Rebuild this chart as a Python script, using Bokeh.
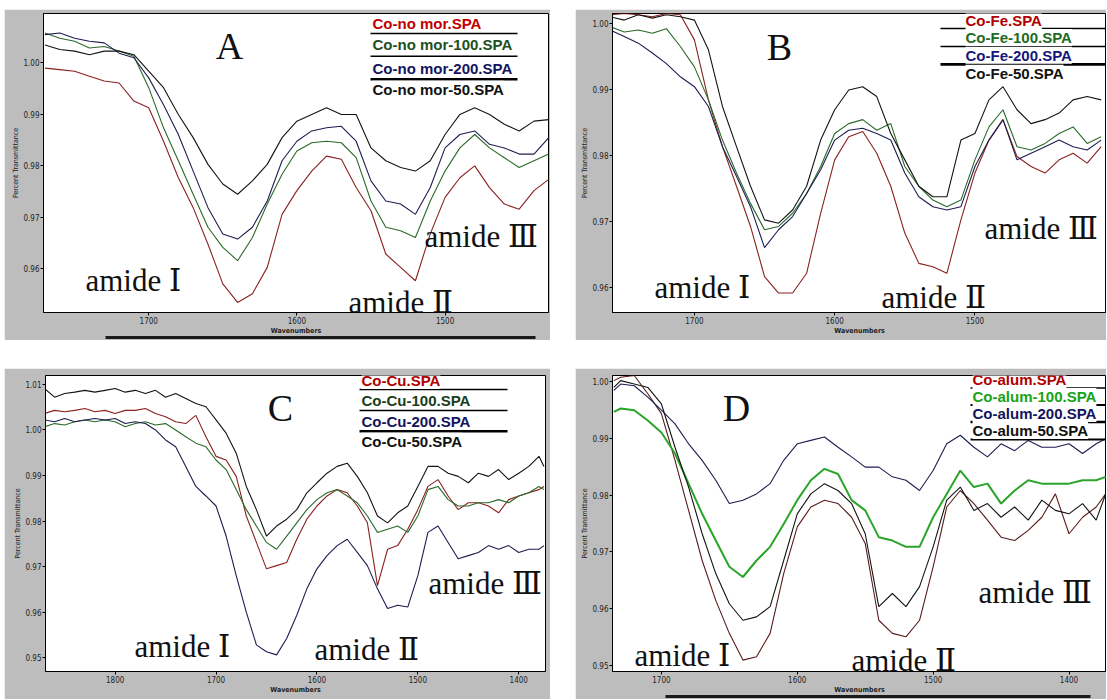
from bokeh.plotting import figure
from bokeh.models import Range1d, FixedTicker, NumeralTickFormatter, Label, BoxAnnotation, LinearAxis, Spacer
from bokeh.layouts import row, column
from bokeh.embed import file_html
from bokeh.resources import INLINE

# ---------------- data ----------------
wn_A = list(range(1770, 1429, -10))
A_red = [0.999, 0.9987, 0.9984, 0.9974, 0.9965, 0.9961, 0.9926, 0.9913, 0.9848, 0.9777, 0.9719, 0.9648,
         0.9571, 0.9535, 0.9552, 0.9603, 0.9706, 0.9752, 0.979, 0.9819, 0.9813, 0.9758, 0.9713, 0.9629,
         0.9603, 0.9577, 0.9668, 0.9739, 0.9777, 0.98, 0.9758, 0.9726, 0.9716, 0.9752, 0.9774]
A_100 = [1.0058, 1.0048, 1.0042, 1.0029, 1.0032, 1.0023, 1.0013, 0.9952, 0.9874, 0.981, 0.9745, 0.9681,
         0.9642, 0.9616, 0.9661, 0.9726, 0.9784, 0.9829, 0.9845, 0.9848, 0.9845, 0.9816, 0.9732, 0.9681,
         0.9674, 0.9661, 0.9732, 0.979, 0.9835, 0.9861, 0.9835, 0.9816, 0.9797, 0.981, 0.9823]
A_200 = [1.0055, 1.0058, 1.0048, 1.0042, 1.0039, 1.0019, 1.001, 0.9971, 0.9919, 0.9861, 0.979, 0.9719,
         0.9668, 0.9658, 0.9681, 0.9732, 0.981, 0.9848, 0.9868, 0.9874, 0.9877, 0.9848, 0.9771, 0.9732,
         0.9726, 0.9706, 0.9758, 0.9835, 0.9861, 0.9868, 0.9842, 0.9835, 0.9823, 0.9823, 0.9855]
A_50 = [1.0035, 1.0026, 1.0023, 1.0016, 1.0023, 1.0023, 1.0016, 0.9984, 0.9952, 0.99, 0.9855, 0.9803,
        0.9765, 0.9745, 0.9771, 0.9803, 0.9855, 0.9887, 0.99, 0.9913, 0.99, 0.99, 0.9835, 0.981,
        0.9797, 0.979, 0.981, 0.9861, 0.99, 0.9913, 0.99, 0.9881, 0.9868, 0.9887, 0.989]

wn_B = list(range(1760, 1400, -10))
B_red = [1.0013, 1.0015, 1.0013, 1.001, 1.0015, 1.0013, 0.9975, 0.9884, 0.9813, 0.9753, 0.9692, 0.9616,
         0.9591, 0.9591, 0.9621, 0.9712, 0.9793, 0.9828, 0.9836, 0.9803, 0.9753, 0.9682, 0.9636, 0.9631,
         0.9621, 0.9702, 0.9773, 0.9823, 0.9854, 0.9798, 0.9783, 0.9773, 0.9793, 0.9803, 0.9788, 0.9813]
B_100 = [0.9995, 0.9987, 0.999, 0.9985, 0.9992, 0.9965, 0.9934, 0.9884, 0.9823, 0.9773, 0.9727, 0.9687,
         0.9692, 0.9712, 0.9742, 0.9783, 0.9833, 0.9848, 0.9854, 0.9838, 0.9848, 0.9783, 0.9753, 0.9732,
         0.9722, 0.9732, 0.9793, 0.9843, 0.9869, 0.9813, 0.9808, 0.9818, 0.9833, 0.9843, 0.9818, 0.9828]
B_200 = [0.999, 0.998, 0.997, 0.9955, 0.9939, 0.9919, 0.9904, 0.9874, 0.9813, 0.9768, 0.9722, 0.966,
         0.9687, 0.9707, 0.9742, 0.9778, 0.9823, 0.9838, 0.9841, 0.9833, 0.9823, 0.9773, 0.9737, 0.9722,
         0.9717, 0.9722, 0.9783, 0.9823, 0.9854, 0.9793, 0.9803, 0.9813, 0.9823, 0.9813, 0.9808, 0.9823]
B_50 = [1.001, 1.0005, 1.0013, 1.0008, 1.0013, 1.001, 1.0005, 0.996, 0.9874, 0.9813, 0.9753, 0.9702,
        0.9697, 0.9717, 0.9753, 0.9823, 0.9869, 0.9899, 0.9904, 0.9889, 0.9833, 0.9793, 0.9753, 0.9737,
        0.9737, 0.9823, 0.9833, 0.9884, 0.9904, 0.9869, 0.9848, 0.9854, 0.9864, 0.9884, 0.9889, 0.9884]

wn_C = list(range(1870, 1370, -10)) + [1375]
C_red = [1.0036, 1.0043, 1.004, 1.0043, 1.0047, 1.004, 1.0043, 1.0036, 1.0043, 1.0043,
         1.0047, 1.0036, 1.0029, 1.0018, 1.0014, 1.0032, 0.9985, 0.9942, 0.9934, 0.9898,
         0.9811, 0.9753, 0.9695, 0.9702, 0.9709, 0.976, 0.9804, 0.9833, 0.9855, 0.9869,
         0.9862, 0.9833, 0.9796, 0.9658, 0.9738, 0.9746, 0.9782, 0.9825, 0.9876, 0.9891,
         0.9855, 0.9825, 0.984, 0.984, 0.9833, 0.9818, 0.9847, 0.9855, 0.9862, 0.9869, 0.9876]
C_100 = [1.0007, 1.0014, 1.0011, 1.0018, 1.0022, 1.0018, 1.0022, 1.0018, 1.0007, 1.0014,
         1.0018, 1.0011, 1.0014, 1.0, 0.9985, 0.9971, 0.9963, 0.9934, 0.9913, 0.9869,
         0.9825, 0.9789, 0.9753, 0.9738, 0.9767, 0.9796, 0.9825, 0.9847, 0.9862, 0.9869,
         0.9855, 0.984, 0.9811, 0.9775, 0.9782, 0.9789, 0.9775, 0.9811, 0.9869, 0.9876,
         0.9847, 0.9833, 0.9833, 0.984, 0.984, 0.9847, 0.984, 0.9855, 0.9862, 0.9876, 0.9869]
C_200 = [1.0022, 1.0018, 1.0025, 1.0018, 1.0022, 1.0025, 1.0022, 1.0025, 1.0014, 1.0018,
         1.0014, 1.0, 0.9978, 0.9963, 0.992, 0.9876, 0.9855, 0.9833, 0.9767, 0.968,
         0.96, 0.9528, 0.9513, 0.9506, 0.9542, 0.9593, 0.9651, 0.9695, 0.9724, 0.9746,
         0.976, 0.9731, 0.9702, 0.9651, 0.9608, 0.9615, 0.9611, 0.968, 0.9775, 0.9789,
         0.9753, 0.9717, 0.9724, 0.9731, 0.9746, 0.9738, 0.9746, 0.9731, 0.9738, 0.9738, 0.9746]
C_50 = [1.0091, 1.0072, 1.008, 1.0083, 1.0087, 1.0083, 1.0087, 1.0091, 1.0083, 1.0087,
        1.008, 1.0087, 1.0072, 1.008, 1.0069, 1.0058, 1.0051, 1.0022, 0.9993, 0.9949,
        0.9876, 0.9825, 0.9767, 0.9789, 0.9804, 0.9825, 0.9862, 0.9884, 0.9905, 0.992,
        0.9927, 0.9898, 0.9862, 0.9811, 0.9796, 0.9818, 0.9833, 0.9876, 0.992, 0.992,
        0.9905, 0.9898, 0.9884, 0.9905, 0.9898, 0.9913, 0.9891, 0.9905, 0.992, 0.9942, 0.992]

wn_D = [1735, 1730] + list(range(1720, 1379, -10)) + [1373]
D_red = [1.0001, 1.0007, 1.001, 0.9978, 0.9943, 0.9861, 0.9773, 0.9685, 0.9615, 0.9557, 0.951, 0.9516,
         0.9557, 0.9662, 0.9744, 0.9779, 0.9791, 0.9785, 0.9761, 0.9715, 0.958, 0.9557, 0.9551, 0.958,
         0.9674, 0.9779, 0.9808, 0.9785, 0.9756, 0.9726, 0.972, 0.9738, 0.9761, 0.9802, 0.9732, 0.9761,
         0.9779, 0.9802]
D_100 = [0.9946, 0.9952, 0.9949, 0.9931, 0.991, 0.9873, 0.982, 0.9767, 0.972, 0.9674, 0.9656, 0.9685,
         0.9709, 0.9749, 0.9791, 0.9826, 0.9846, 0.9837, 0.9791, 0.9773, 0.9726, 0.972, 0.9709, 0.9709,
         0.9761, 0.9802, 0.9843, 0.9814, 0.982, 0.9785, 0.9808, 0.9826, 0.982, 0.982, 0.982, 0.9826,
         0.9826, 0.9832]
D_200 = [0.9984, 0.9995, 0.9992, 0.9972, 0.9949, 0.9925, 0.989, 0.9861, 0.9826, 0.9785, 0.9791, 0.9802,
         0.982, 0.9861, 0.989, 0.9896, 0.9902, 0.9884, 0.9867, 0.9849, 0.9849, 0.9832, 0.9826, 0.9808,
         0.9843, 0.989, 0.9905, 0.9884, 0.9867, 0.989, 0.9878, 0.9896, 0.9884, 0.9884, 0.989, 0.9873,
         0.989, 0.9899]
D_50 = [0.9989, 1.0001, 0.9995, 0.9989, 0.996, 0.9884, 0.9814, 0.9732, 0.9662, 0.9609, 0.958, 0.9586,
        0.9604, 0.9685, 0.9767, 0.9802, 0.982, 0.9808, 0.9785, 0.9732, 0.9604, 0.9627, 0.9604, 0.9639,
        0.9709, 0.9791, 0.9814, 0.9773, 0.9785, 0.9761, 0.9779, 0.9756, 0.9791, 0.9773, 0.9767, 0.9785,
        0.9756, 0.9802]

legend_A = ["Co-no mor.SPA", "Co-no mor-100.SPA", "Co-no mor-200.SPA", "Co-no mor-50.SPA"]
legend_B = ["Co-Fe.SPA", "Co-Fe-100.SPA", "Co-Fe-200.SPA", "Co-Fe-50.SPA"]
legend_C = ["Co-Cu.SPA", "Co-Cu-100.SPA", "Co-Cu-200.SPA", "Co-Cu-50.SPA"]
legend_D = ["Co-alum.SPA", "Co-alum-100.SPA", "Co-alum-200.SPA", "Co-alum-50.SPA"]
amide_labels = ["amide \u2160", "amide \u2161", "amide \u2162"]

# ---------------- styles ----------------
GREY = "#bdbdbd"
TICK_FONT = "'Liberation Sans Narrow', 'DejaVu Sans Condensed', 'Liberation Sans', sans-serif"
SERIF = "'Liberation Serif', 'DejaVu Serif', serif"
SANS = "'Liberation Sans', Arial, sans-serif"
LINE_COLORS = ["#8b2020", "#2a6a2a", "#1d1d52", "#141414"]


def make_panel(spec):
    w, h = spec["size"]
    bl, br, bt, bb = spec["borders"]
    xr, yr = spec["xr"], spec["yr"]
    fx0 = spec["origin"][0] + bl
    fy0 = spec["origin"][1] + bt
    fw = w - bl - br
    fh = h - bt - bb

    def X(px):
        return xr[0] + (px - fx0) / fw * (xr[1] - xr[0])

    def Y(py):
        return yr[1] - (py - fy0) / fh * (yr[1] - yr[0])

    p = figure(width=w, height=h, x_range=Range1d(*xr), y_range=Range1d(*yr),
               output_backend="svg", toolbar_location=None,
               min_border_left=bl, min_border_right=br, min_border_top=bt, min_border_bottom=bb,
               border_fill_color=GREY, background_fill_color="white",
               outline_line_color="black", outline_line_width=1)
    p.xgrid.visible = False
    p.ygrid.visible = False
    for ax in (p.xaxis[0], p.yaxis[0]):
        ax.major_label_text_font = TICK_FONT
        ax.major_label_text_font_size = "8px"
        ax.major_label_text_color = "#222222"
        ax.major_tick_out = 3
        ax.major_tick_in = 0
        ax.minor_tick_out = 0
        ax.minor_tick_in = 0
        ax.axis_line_color = "black"
        ax.major_tick_line_color = "black"
        ax.major_label_standoff = 1
        ax.axis_label_standoff = 0
        ax.axis_label_text_font = TICK_FONT
        ax.axis_label_text_font_size = "7px"
        ax.axis_label_text_color = "#222222"
    p.xaxis.ticker = FixedTicker(ticks=spec["xticks"])
    p.yaxis.ticker = FixedTicker(ticks=spec["yticks"])
    p.yaxis.formatter = NumeralTickFormatter(format="0.00")
    p.xaxis.formatter = NumeralTickFormatter(format="0")
    p.xaxis.axis_label = "Wavenumbers"
    p.xaxis.axis_label_text_font_style = "bold"
    p.yaxis.axis_label = "Percent Transmittance"
    p.yaxis.axis_label_text_font_style = "normal"

    if spec.get("bar") is not None:
        b0, b1 = spec["bar"]
        extra = LinearAxis(ticker=FixedTicker(ticks=[]), bounds=(X(b0), X(b1)),
                           axis_line_width=3, axis_line_color="#1a1a1a",
                           major_tick_line_color=None, minor_tick_line_color=None,
                           major_label_text_font_size="0px")
        p.add_layout(extra, "below")

    for i, (vals, col) in enumerate(zip(spec["series"], spec["line_colors"])):
        lw = spec.get("green_width", 1.1) if i == 1 else 1.1
        p.line(spec["wn"], vals, line_color=col, line_width=lw)

    lx, ly = spec["letter_pos"]
    p.add_layout(Label(x=X(lx), y=Y(ly), text=spec["letter"], text_font=SERIF,
                       text_font_size="38px", text_color="#111111", text_align="center",
                       text_baseline="middle"))
    for txt, (ax_, ay_) in zip(amide_labels, spec["amide_pos"]):
        p.add_layout(Label(x=X(ax_), y=Y(ay_), text=txt, text_font=SERIF, text_font_size="31px",
                           text_color="#111111", text_align="left", text_baseline="alphabetic"))

    dv = (yr[1] - yr[0]) / fh
    sx0, sx1 = spec["sep_x"]
    for sy, th in zip(spec["sep_y"], spec["sep_w"]):
        p.add_layout(BoxAnnotation(left=X(sx1), right=X(sx0), bottom=Y(sy) - th * dv / 2,
                                   top=Y(sy) + th * dv / 2, fill_color="black", fill_alpha=1,
                                   line_color=None))
    for txt, ly_, tc in zip(spec["legend"], spec["leg_y"], spec["text_colors"]):
        p.add_layout(Label(x=X(spec["leg_x"]), y=Y(ly_), text=txt, text_font=SANS,
                           text_font_style="bold", text_font_size="15px", text_color=tc,
                           text_align="left", text_baseline="middle",
                           background_fill_color="white"))
    return p


specA = dict(size=(546, 331), origin=(4, 9), borders=(39, 2, 3, 28),
             xr=(1771.0, 1430.2), yr=(0.95154, 1.0096), xticks=[1700, 1600, 1500],
             yticks=[0.96, 0.97, 0.98, 0.99, 1.00], wn=wn_A, series=[A_red, A_100, A_200, A_50],
             line_colors=LINE_COLORS, text_colors=["#c00000", "#1e4f1e", "#14145e", "#111111"],
             letter="A", letter_pos=(229, 45),
             amide_pos=[(85, 280), (348, 302), (424, 236)],
             legend=legend_A, leg_x=372, leg_y=[22, 43, 67, 88],
             sep_x=(370, 517), sep_y=[32, 55, 78], sep_w=[1.5, 1.5, 2.6], bar=(105, 535))

specB = dict(size=(531, 331), origin=(575, 9), borders=(37, 0, 4, 27),
             xr=(1758.4, 1406.2), yr=(0.95615, 1.0015), xticks=[1700, 1600, 1500, 1400],
             yticks=[0.96, 0.97, 0.98, 0.99, 1.00], wn=wn_B, series=[B_red, B_100, B_200, B_50],
             line_colors=LINE_COLORS, text_colors=["#b00000", "#1f6a1f", "#16167a", "#111111"],
             letter="B", letter_pos=(779, 47),
             amide_pos=[(654, 288), (881, 298), (984, 229)],
             legend=legend_B, leg_x=965, leg_y=[20, 37, 55, 73],
             sep_x=(940, 1107), sep_y=[28, 46, 64], sep_w=[1.5, 1.5, 2.6], bar=None)

specC = dict(size=(546, 331), origin=(4, 368), borders=(41, 5, 7, 27),
             xr=(1869.0, 1373.5), yr=(0.94695, 1.01196), xticks=[1800, 1700, 1600, 1500, 1400],
             yticks=[0.95, 0.96, 0.97, 0.98, 0.99, 1.00, 1.01], wn=wn_C,
             series=[C_red, C_100, C_200, C_50],
             line_colors=LINE_COLORS, text_colors=["#b00000", "#1a3d1a", "#14145e", "#111111"],
             letter="C", letter_pos=(280, 408),
             amide_pos=[(134, 647), (314, 650), (428, 584)],
             legend=legend_C, leg_x=361, leg_y=[380, 400, 421, 441],
             sep_x=(359, 507), sep_y=[389, 410, 431], sep_w=[1.5, 1.5, 2.6], bar=None)

specD = dict(size=(531, 331), origin=(575, 368), borders=(37, 0, 7, 28),
             xr=(1736.0, 1372.4), yr=(0.949, 1.001), xticks=[1700, 1600, 1500, 1400],
             yticks=[0.95, 0.96, 0.97, 0.98, 0.99, 1.00], wn=wn_D,
             series=[D_red, D_100, D_200, D_50],
             line_colors=["#5a1a1a", "#2aa52a", "#1d1d52", "#141414"],
             text_colors=["#b00000", "#17a317", "#14145e", "#111111"],
             letter="D", letter_pos=(736, 407),
             amide_pos=[(634, 655), (851, 660), (978, 592)],
             legend=legend_D, leg_x=972, leg_y=[379, 396, 413, 430],
             sep_x=(970, 1107), sep_y=[387.5, 404.5, 421.5, 439], sep_w=[1.5, 2.0, 2.6, 2.0],
             bar=(665, 1090), green_width=2.0)

pA = make_panel(specA)
pB = make_panel(specB)
pC = make_panel(specC)
pD = make_panel(specD)

layout = column(
    Spacer(height=9),
    row(Spacer(width=4), pA, Spacer(width=25), pB),
    Spacer(height=28),
    row(Spacer(width=4), pC, Spacer(width=25), pD),
)

open("out.html", "w").write(file_html(layout, INLINE))
